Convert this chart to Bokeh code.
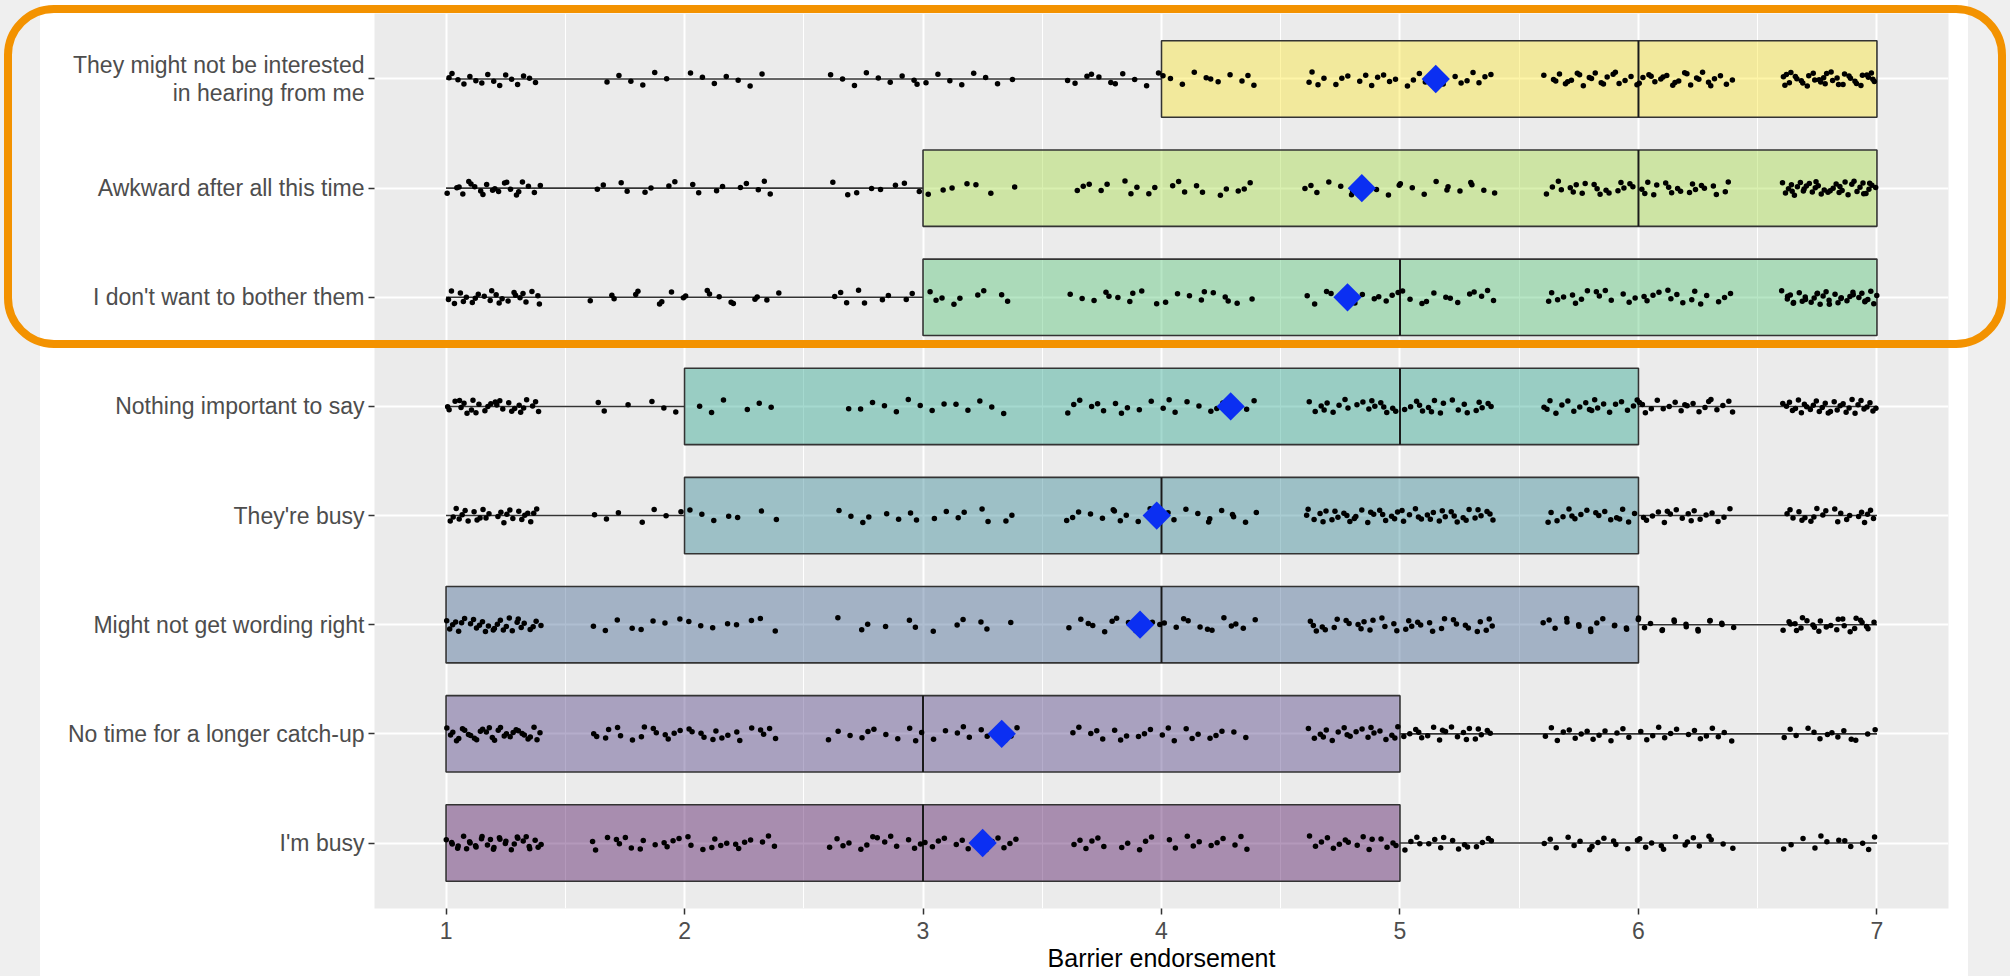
import numpy as np
from bokeh.plotting import figure
from bokeh.models import Range1d, FixedTicker, GlobalInlineStyleSheet
from bokeh.embed import file_html
from bokeh.resources import INLINE

# ---------------- data ----------------
categories = [
    "They might not be interested\nin hearing from me",
    "Awkward after all this time",
    "I don't want to bother them",
    "Nothing important to say",
    "They're busy",
    "Might not get wording right",
    "No time for a longer catch-up",
    "I'm busy",
]
q1 = [4, 3, 3, 2, 2, 1, 1, 1]
median = [6, 6, 5, 5, 4, 4, 3, 3]
q3 = [7, 7, 7, 6, 6, 6, 5, 5]
whisker_low = [1, 1, 1, 1, 1, 1, 1, 1]
whisker_high = [7, 7, 7, 7, 7, 7, 7, 7]
means = [5.15, 4.84, 4.78, 4.29, 3.98, 3.91, 3.33, 3.25]

levels = [1, 2, 3, 4, 5, 6, 7]
# visible jittered points per response level (1..7), one list per category
counts_might_not_be_interested = [16, 13, 17, 22, 28, 45, 35]
counts_awkward = [22, 17, 15, 20, 22, 38, 38]
counts_dont_want_to_bother = [24, 19, 18, 20, 26, 30, 35]
counts_nothing_important = [28, 12, 14, 22, 38, 40, 32]
counts_theyre_busy = [26, 14, 16, 24, 48, 36, 22]
counts_wording = [30, 16, 12, 24, 36, 32, 26]
counts_no_time = [32, 30, 22, 22, 40, 30, 14]
counts_im_busy = [32, 28, 28, 22, 32, 28, 12]
point_counts = [
    counts_might_not_be_interested, counts_awkward, counts_dont_want_to_bother,
    counts_nothing_important, counts_theyre_busy, counts_wording,
    counts_no_time, counts_im_busy,
]
x_ticks = [1, 2, 3, 4, 5, 6, 7]
x_title = "Barrier endorsement"

# ---------------- styling ----------------
box_colors = ["#FDE725", "#9FDA3A", "#4AC16D", "#1FA187",
              "#277F8E", "#365C8D", "#46337E", "#440154"]
FONT = "Liberation Sans"
n = len(categories)
ypos = [n - i for i in range(n)]          # top category at the top
JW, JH = 0.4, 0.065                       # jitter half-width / half-height

W, H = 2010, 976

# page decoration: grey side strips behind the white slide and the orange
# rounded highlight frame around the top three barriers
page_css = """
body {
  background: linear-gradient(to right, #efefef 0px, #efefef 40px, #ffffff 40px,
                              #ffffff 1968px, #efefef 1968px, #efefef 100%);
}
body::after {
  content: "";
  position: fixed;
  left: 4px;
  top: 5px;
  width: 1986px;
  height: 327px;
  border: 8px solid #f39200;
  border-radius: 50px;
  box-sizing: content-box;
  pointer-events: none;
  z-index: 1000;
}
"""

p = figure(width=W, height=H, output_backend="svg", toolbar_location=None,
           x_range=Range1d(0.7, 7.3), y_range=Range1d(0.4, n + 0.6),
           min_border_left=374, min_border_right=62,
           min_border_top=13, min_border_bottom=68,
           stylesheets=[GlobalInlineStyleSheet(css=page_css)])
p.background_fill_color = "#ebebeb"
p.border_fill_color = None
p.outline_line_color = None

# axes
p.xaxis.ticker = FixedTicker(ticks=x_ticks, minor_ticks=[t + 0.5 for t in x_ticks[:-1]])
p.yaxis.ticker = FixedTicker(ticks=ypos)
p.yaxis.major_label_overrides = {y: c for y, c in zip(ypos, categories)}
for ax in (p.xaxis, p.yaxis):
    ax.axis_line_color = None
    ax.major_tick_in = 0
    ax.major_tick_out = 6
    ax.major_tick_line_color = "#333333"
    ax.major_tick_line_width = 1.5
    ax.minor_tick_line_color = None
    ax.major_label_text_font = FONT
    ax.major_label_text_font_size = "23px"
    ax.major_label_text_color = "#4d4d4d"
p.yaxis.major_label_standoff = 4
p.yaxis.major_label_text_line_height = 1.08
p.xaxis.major_label_standoff = 7
p.xaxis.axis_label = x_title
p.xaxis.axis_label_text_font = FONT
p.xaxis.axis_label_text_font_size = "25px"
p.xaxis.axis_label_text_font_style = "normal"
p.xaxis.axis_label_text_color = "black"
p.xaxis.axis_label_standoff = 2

p.xgrid.grid_line_color = "white"
p.xgrid.grid_line_width = 2
p.xgrid.minor_grid_line_color = "white"
p.xgrid.minor_grid_line_width = 1
p.ygrid.grid_line_color = "white"
p.ygrid.grid_line_width = 2

# whiskers
p.segment(x0=whisker_low, x1=q1, y0=ypos, y1=ypos, line_color="#333333", line_width=1.6)
p.segment(x0=q3, x1=whisker_high, y0=ypos, y1=ypos, line_color="#333333", line_width=1.6)

# boxes
p.hbar(y=ypos, left=q1, right=q3, height=0.7, fill_color=box_colors, fill_alpha=0.4,
       line_color="#333333", line_width=1.6)
p.segment(x0=median, x1=median, y0=[y - 0.35 for y in ypos], y1=[y + 0.35 for y in ypos],
          line_color="#1a1a1a", line_width=2)


# jittered points (deterministic Halton-sequence jitter instead of random noise)
def halton(i, b):
    f, r = 1.0, 0.0
    while i > 0:
        f /= b
        r += f * (i % b)
        i //= b
    return r


px, py = [], []
k = 0
for row_counts, y in zip(point_counts, ypos):
    for lev, cnt in zip(levels, row_counts):
        lo = -JW if lev > levels[0] else 0.0
        hi = JW if lev < levels[-1] else 0.0
        for _ in range(cnt):
            k += 1
            px.append(lev + lo + (hi - lo) * halton(k, 2))
            py.append(y + JH * (2 * halton(k, 3) - 1))
p.scatter(x=px, y=py, size=5.5, fill_color="black", line_color=None)

# means
p.scatter(x=means, y=ypos, marker="square", angle=np.pi / 4, size=20,
          fill_color="#0b2ff2", line_color=None)

open("out.html", "w").write(file_html(p, INLINE))
